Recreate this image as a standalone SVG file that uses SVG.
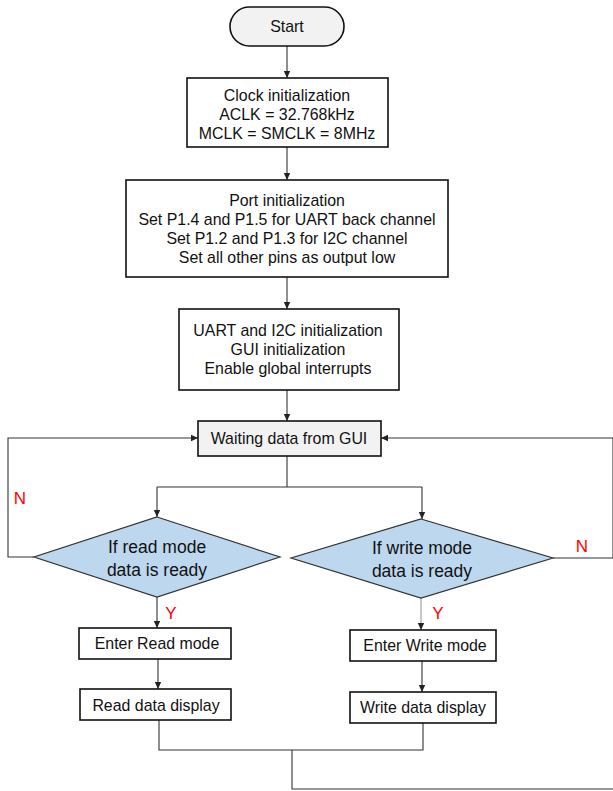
<svg xmlns="http://www.w3.org/2000/svg" width="613" height="791" viewBox="0 0 613 791">
<defs>
<marker id="ah" markerWidth="8" markerHeight="8" refX="7" refY="4" orient="auto" markerUnits="userSpaceOnUse">
<path d="M0,0.8 L7,4 L0,7.2 Z" fill="#222"/>
</marker>
</defs>
<style>
.box{fill:#fff;stroke:#111;stroke-width:1.6}
.grey{fill:#f2f2f2;stroke:#111;stroke-width:1.6}
.dia{fill:#bdd7ee;stroke:#333;stroke-width:1.2}
.t{font-family:"Liberation Sans",Arial,sans-serif;font-size:15.9px;fill:#111;text-anchor:middle}
.d{font-family:"Liberation Sans",Arial,sans-serif;font-size:17.5px;fill:#111;text-anchor:middle}
.r{font-family:"Liberation Sans",Arial,sans-serif;font-size:17px;fill:#ff0000;text-anchor:middle}
.c{fill:none;stroke:#333;stroke-width:1.1}
</style>
<g id="connectors">
<path class="c" d="M287,46 V78" marker-end="url(#ah)"/>
<path class="c" d="M287,147 V180" marker-end="url(#ah)"/>
<path class="c" d="M287,277 V309" marker-end="url(#ah)"/>
<path class="c" d="M287,390 V421" marker-end="url(#ah)"/>
<path class="c" d="M287,456 V487"/>
<path class="c" d="M157,487 H422"/>
<path class="c" d="M157,487 V517" marker-end="url(#ah)"/>
<path class="c" d="M422,487 V519" marker-end="url(#ah)"/>
<path class="c" d="M34,557 H8 V438 H198" marker-end="url(#ah)"/>
<path class="c" d="M553,558 H613 V438 H381" marker-end="url(#ah)"/>
<path class="c" d="M157,597 V628" marker-end="url(#ah)"/>
<path class="c" style="stroke:#999" d="M421,598 V630" marker-end="url(#ah)"/>
<path class="c" d="M158,659 V689" marker-end="url(#ah)"/>
<path class="c" d="M422,661 V692" marker-end="url(#ah)"/>
<path class="c" d="M159,720 V750 H423 V723"/>
<path class="c" d="M292,750 V789 H613"/>
</g>
<g id="start">
<rect class="grey" x="230" y="7" width="114" height="39" rx="19.5"/>
<text class="t" x="287" y="31.5">Start</text>
</g>
<g id="clock">
<rect class="box" x="187" y="78" width="201" height="69"/>
<text class="t" x="287" y="101">Clock initialization</text>
<text class="t" x="287" y="120">ACLK = 32.768kHz</text>
<text class="t" x="287" y="139">MCLK = SMCLK = 8MHz</text>
</g>
<g id="port">
<rect class="box" x="126" y="180" width="322" height="97"/>
<text class="t" x="287" y="205.5">Port initialization</text>
<text class="t" x="287" y="224.5">Set P1.4 and P1.5 for UART back channel</text>
<text class="t" x="287" y="243.5">Set P1.2 and P1.3 for I2C channel</text>
<text class="t" x="287" y="262.5">Set all other pins as output low</text>
</g>
<g id="uart">
<rect class="box" x="179" y="309" width="220" height="81"/>
<text class="t" x="288" y="335.5">UART and I2C initialization</text>
<text class="t" x="288" y="354.5">GUI initialization</text>
<text class="t" x="288" y="373.5">Enable global interrupts</text>
</g>
<g id="waiting">
<rect class="grey" x="198" y="421" width="183" height="35"/>
<text class="t" x="289" y="443.5">Waiting data from GUI</text>
</g>
<g id="readDecision">
<polygon class="dia" points="157,517 280,557 157,597 34,557"/>
<text class="d" x="157" y="553">If read mode</text>
<text class="d" x="157" y="576">data is ready</text>
</g>
<g id="writeDecision">
<polygon class="dia" points="421,519 553,558 421,598 291,558"/>
<text class="d" x="422" y="554">If write mode</text>
<text class="d" x="422" y="577">data is ready</text>
</g>
<g id="labels">
<text class="r" x="20" y="504">N</text>
<text class="r" x="582" y="552">N</text>
<text class="r" x="171" y="619">Y</text>
<text class="r" x="438" y="619">Y</text>
</g>
<g id="enterRead">
<rect class="box" x="79" y="628" width="152" height="31"/>
<text class="t" x="157" y="648.5">Enter Read mode</text>
</g>
<g id="enterWrite">
<rect class="box" x="350" y="630" width="146" height="31"/>
<text class="t" x="425" y="650.5">Enter Write mode</text>
</g>
<g id="readDisplay">
<rect class="box" x="80" y="689" width="151" height="31"/>
<text class="t" x="156" y="710.5">Read data display</text>
</g>
<g id="writeDisplay">
<rect class="box" x="350" y="692" width="146" height="31"/>
<text class="t" x="423" y="712.5">Write data display</text>
</g>
</svg>
